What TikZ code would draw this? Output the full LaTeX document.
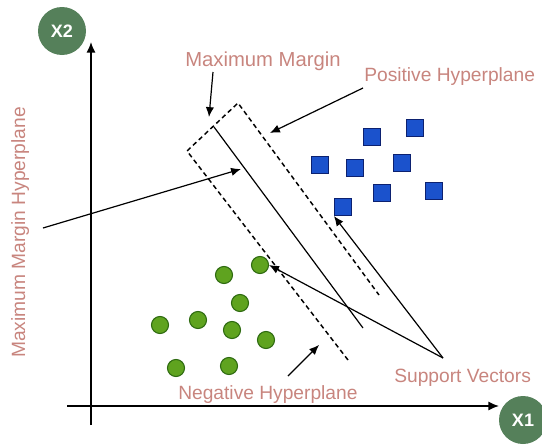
\documentclass[tikz,border=0pt]{standalone}
\usepackage{fontspec}
\setmainfont{Liberation Sans}
\usetikzlibrary{arrows.meta}
\definecolor{axisgreen}{HTML}{55805A}
\definecolor{capred}{HTML}{C8857E}
\definecolor{dotgreen}{HTML}{5FA31F}
\definecolor{dotgreenline}{HTML}{2D6A10}
\definecolor{boxblue}{HTML}{1B52CC}
\definecolor{boxblueline}{HTML}{0C2170}

\begin{document}
\begin{tikzpicture}[x=0.75pt, y=-0.75pt, axis/.style={-{Latex[length=2.8mm,width=2.4mm]}, line width=1.1pt}, pointer/.style={-{Latex[length=2.6mm,width=2.2mm]}, line width=0.9pt}, axtag/.style={circle, fill=axisgreen, minimum size=36pt, inner sep=0pt, text=white, font=\fontsize{13.5}{15}\selectfont\bfseries}, caption/.style={text=capred, font=\fontsize{14.4}{17}\selectfont, inner sep=0pt, anchor=base west}, negpt/.style={circle, draw=dotgreenline, fill=dotgreen, line width=0.8pt, minimum size=12.8pt, inner sep=0pt}, pospt/.style={rectangle, draw=boxblueline, fill=boxblue, line width=0.8pt, minimum size=12.8pt, inner sep=0pt}, margin/.style={dash pattern=on 3.5pt off 2.5pt, line width=1.1pt}]
\useasboundingbox (0,0) rectangle (542,446);

\node[axtag] (x2) at (62,31) {X2}; \node[axtag] (x1) at (523,420) {X1};
\coordinate (O) at (91,406); \coordinate (ybot) at (91,425); \coordinate (ytop) at (91,42); \coordinate (xleft) at (67,406); \coordinate (xright) at (499,406);
\draw[axis] (ybot)--(ytop); \draw[axis] (xleft)--(xright);

\coordinate (L1) at (348,360); \coordinate (L2) at (187,151); \coordinate (R1) at (238,103); \coordinate (R2) at (379,295);
\draw[margin] (L1)--(L2)--(R1)--(R2); \coordinate (H1) at (214,127); \coordinate (H2) at (363,328); \draw[line width=0.9pt] (H1)--(H2);

\foreach \i/\x/\y in {1/372/137, 2/415/128, 3/320/165, 4/355/168, 5/402/163, 6/382/193, 7/434/191, 8/343/207} {\node[pospt] (sq\i) at (\x,\y) {};}
\foreach \i/\x/\y in {1/260/265, 2/224/275, 3/240/303, 4/160/325, 5/198/320, 6/232/330, 7/266/340, 8/176/368, 9/229/366} {\node[negpt] (g\i) at (\x,\y) {};}

\node[caption, font=\fontsize{15.2}{18}\selectfont] (mm) at (185,66) {Maximum Margin}; \node[caption] (pos) at (364,81) {Positive Hyperplane};
\node[caption] (neg) at (178,399) {Negative Hyperplane}; \node[caption] (sv) at (394,382) {Support Vectors};
\node[caption, rotate=90] (mmh) at (25,358) {Maximum Margin Hyperplane};

\coordinate (mmfrom) at (213,72); \coordinate (mmto) at (209,117); \draw[pointer] (mmfrom)--(mmto);
\coordinate (posfrom) at (363,88); \coordinate (posto) at (270,133); \draw[pointer] (posfrom)--(posto);
\coordinate (mmhfrom) at (43,228); \coordinate (mmhto) at (241,169); \draw[pointer] (mmhfrom)--(mmhto);
\coordinate (negfrom) at (288,376); \coordinate (negto) at (319,345); \draw[pointer] (negfrom)--(negto);
\coordinate (svfrom) at (443,358); \draw[pointer] (svfrom)--(sq8.south west); \draw[pointer] (svfrom)--(g1.east);
\end{tikzpicture}
\end{document}
